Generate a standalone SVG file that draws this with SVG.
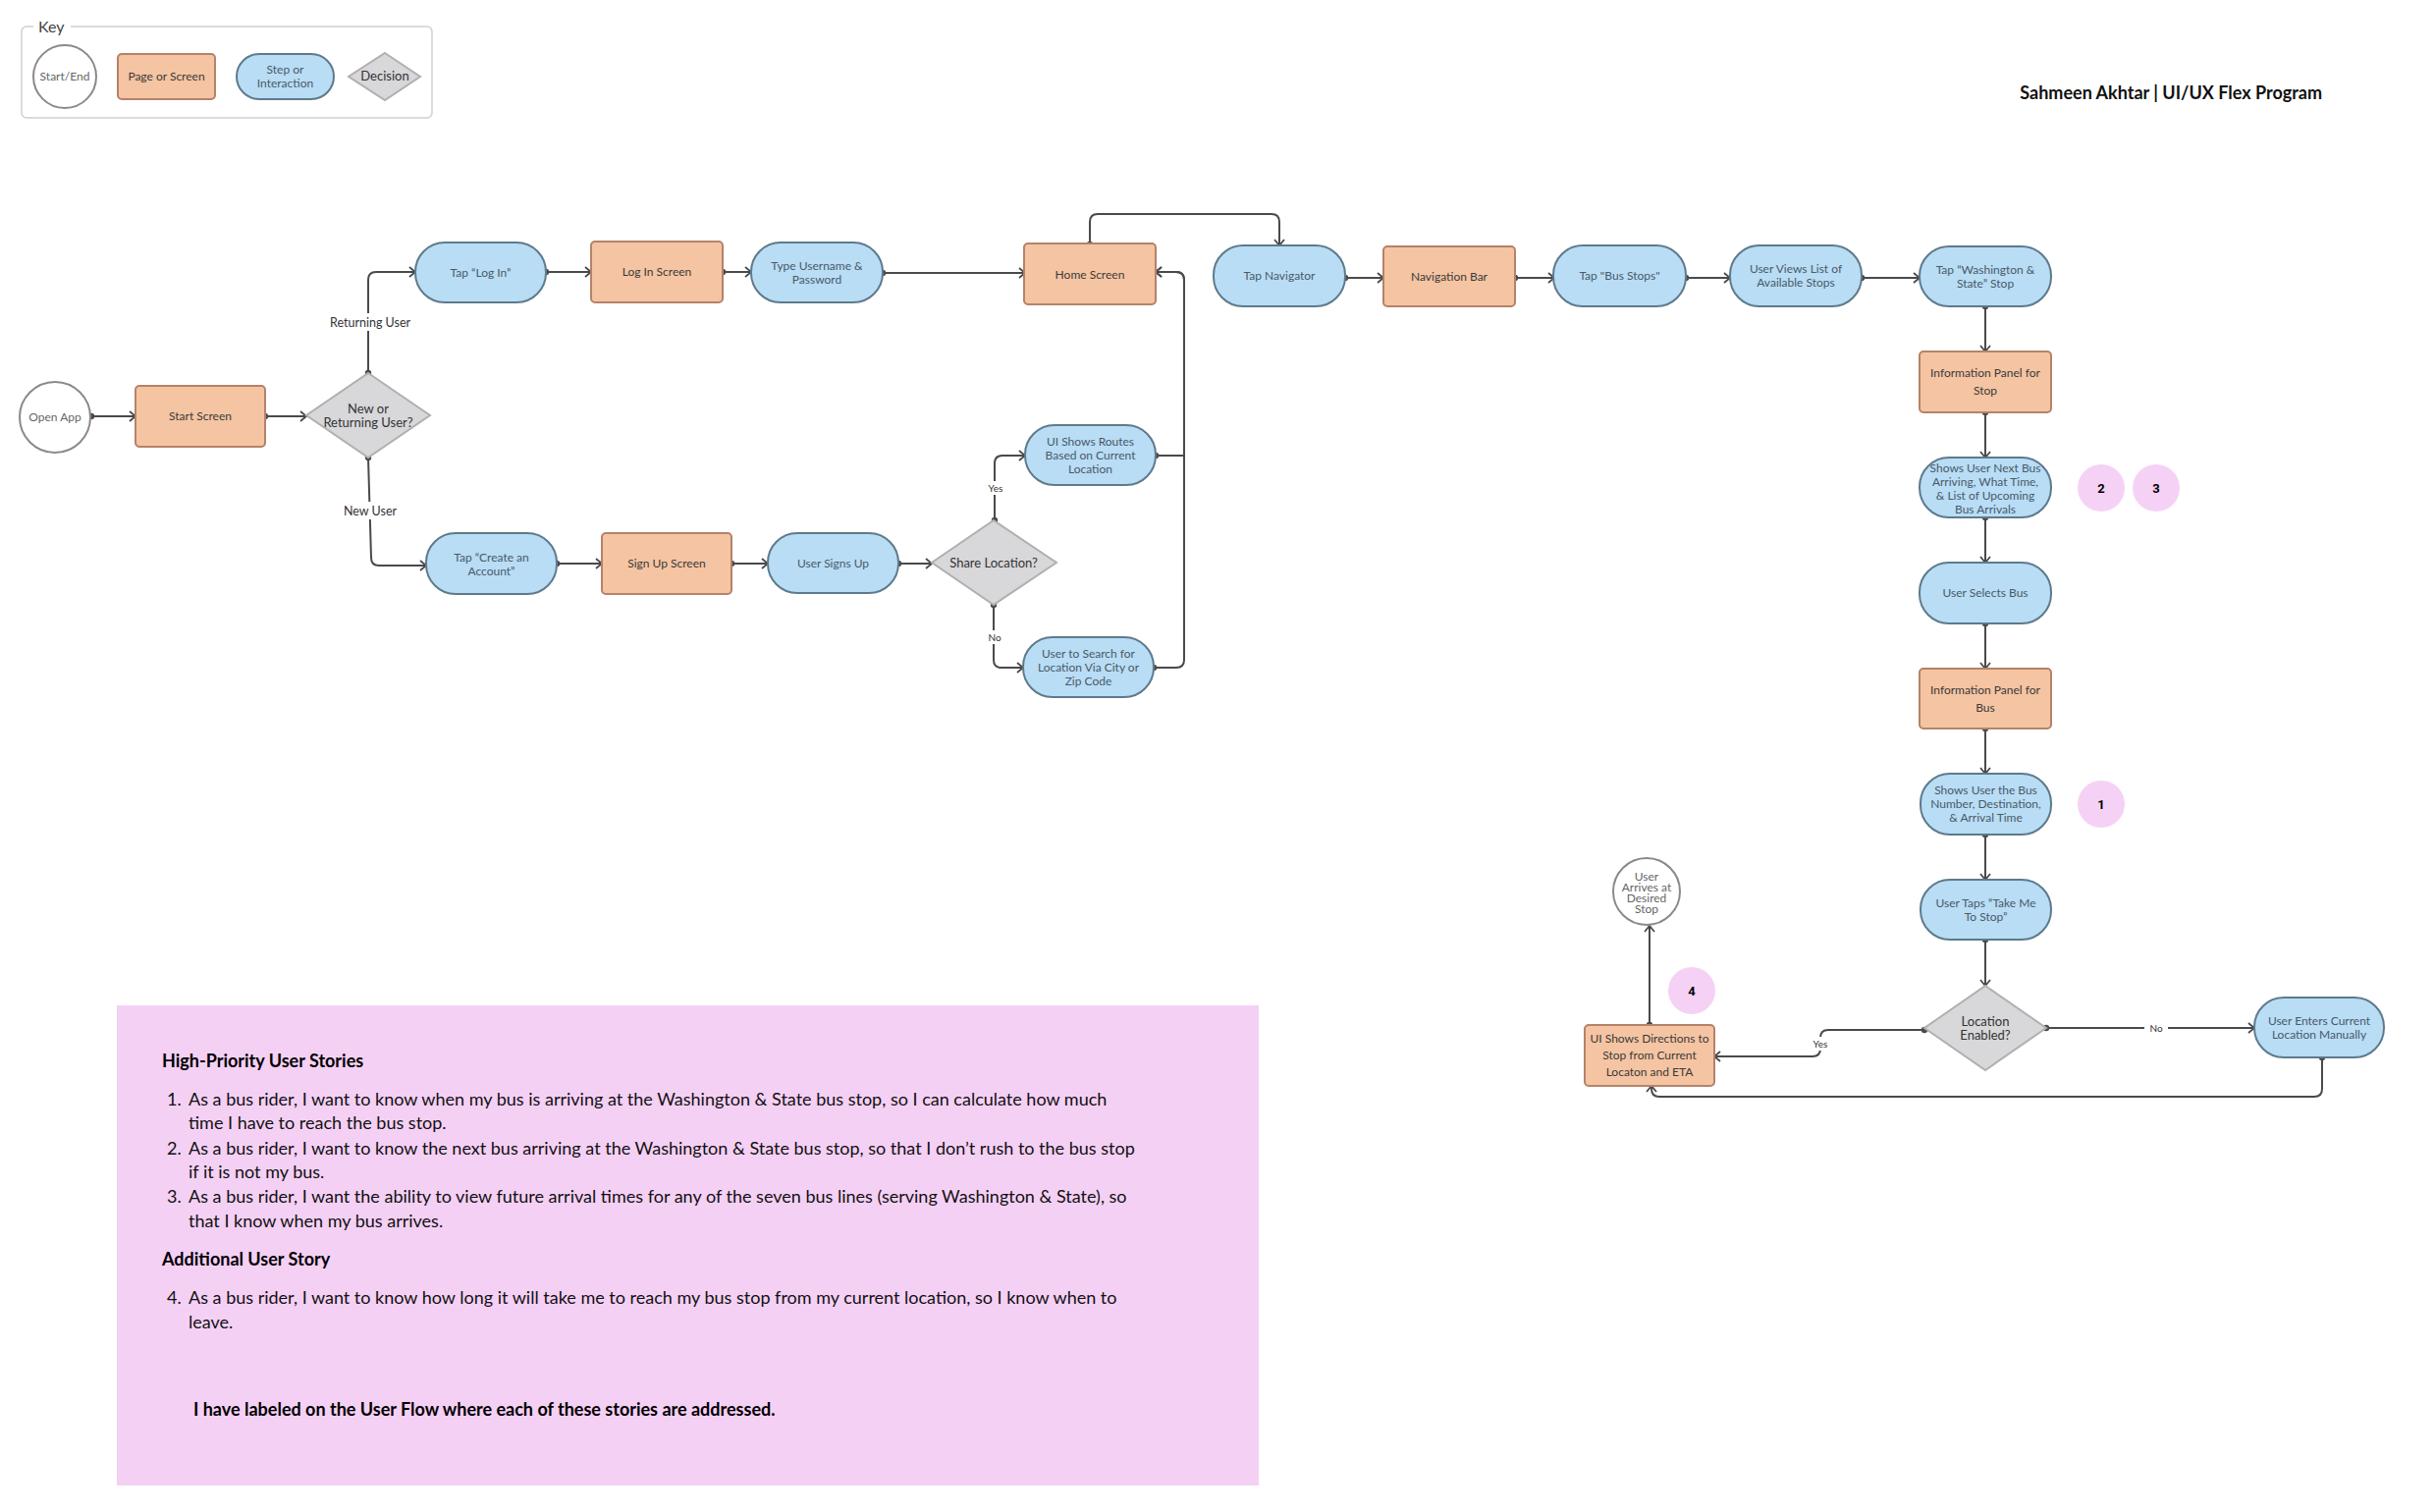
<svg xmlns="http://www.w3.org/2000/svg" width="2480" height="1540" viewBox="0 0 2480 1540">
<defs>
<marker id="arr" markerUnits="userSpaceOnUse" markerWidth="14" markerHeight="14" refX="9" refY="6" orient="auto">
<path d="M3,1 L9,6 L3,11" fill="none" stroke="#4a4a4a" stroke-width="1.8"/>
</marker>
<marker id="dot" markerUnits="userSpaceOnUse" markerWidth="8" markerHeight="8" refX="4" refY="4" orient="auto">
<circle cx="4" cy="4" r="3.2" fill="#4a4a4a"/>
</marker>
</defs>
<style>
text{font-family:Lato,"Liberation Sans",sans-serif}
.pg{fill:#f5c4a2;stroke:#b5826a;stroke-width:2}
.st{fill:#b8ddf5;stroke:#5e7a8c;stroke-width:2}
.dc{fill:#d8d7d9;stroke:#b0b0b0;stroke-width:2}
.se{fill:#fff;stroke:#8a8a8a;stroke-width:2}
.bd{fill:#f5d2f5}
.tp{font-size:12px;fill:#3a3a3a;text-anchor:middle}
.ts{font-size:12px;fill:#4a5968;text-anchor:middle}
.td{font-size:13px;fill:#333;text-anchor:middle}
.tc{font-size:12px;fill:#666;text-anchor:middle}
.tb{font-size:13px;font-weight:bold;fill:#000;text-anchor:middle;font-family:Roboto,"Liberation Sans",sans-serif}
.cn path{fill:none;stroke:#4a4a4a;stroke-width:2;marker-start:url(#dot);marker-end:url(#arr)}
.lb{font-size:12.5px;fill:#333;text-anchor:middle}
.ls{font-size:10px;fill:#333;text-anchor:middle}
.story{font-size:18px;fill:#111}
.sh{font-size:18px;font-weight:bold;fill:#000}
</style>
<rect width="2480" height="1540" fill="#fff"/>

<g id="key">
<rect x="22" y="27" width="418" height="93" rx="5" fill="#fff" stroke="#cfcfcf" stroke-width="1.5"/>
<rect x="34" y="18" width="38" height="18" fill="#fff"/>
<text x="39" y="33" font-size="16" fill="#444">Key</text>
<circle cx="66" cy="78" r="32" class="se"/>
<text x="66" y="82" class="tc" font-size="11">Start/End</text>
<rect x="120" y="55" width="99" height="46" rx="4" class="pg"/>
<text x="169.5" y="82" class="tp" font-size="11">Page or Screen</text>
<rect x="241" y="55" width="99" height="46" rx="23" class="st"/>
<text x="290.5" y="75" class="ts" font-size="11">Step or</text>
<text x="290.5" y="89" class="ts" font-size="11">Interaction</text>
<polygon points="392,54 428,78 392,102 355,78" class="dc"/>
<text x="392" y="82" class="td" font-size="11">Decision</text>
</g>

<text x="2365" y="101" text-anchor="end" font-size="18" font-weight="bold" fill="#111">Sahmeen Akhtar | UI/UX Flex Program</text>

<g class="cn" id="connectors">
<path d="M93,424 H138"/>
<path d="M270,424 H312"/>
<path d="M375,380 V285 Q375,277 383,277 H423"/>
<path d="M375,466 L378,568 Q378,576 386,576 H434"/>
<path d="M556,277 H602"/>
<path d="M736,277 H765"/>
<path d="M899,278 H1044"/>
<path d="M1110,249 V226 Q1110,218 1118,218 H1295 Q1303,218 1303,226 V250"/>
<path d="M567,574 H613"/>
<path d="M745,574 H782"/>
<path d="M915,574 H949"/>
<path d="M1013,530 V472 Q1013,464 1021,464 H1044"/>
<path d="M1012,616 V672 Q1012,680 1020,680 H1042"/>
<path d="M1177,464 H1206 V285 Q1206,277 1198,277 H1177"/>
<path d="M1175,680 H1198 Q1206,680 1206,672 V285 Q1206,277 1198,277 H1177"/>
<path d="M1370,283 H1409"/>
<path d="M1543,283 H1583"/>
<path d="M1717,283 H1762"/>
<path d="M1896,283 H1955"/>
<path d="M2022,312 V358"/>
<path d="M2022,420 V466"/>
<path d="M2022,527 V573"/>
<path d="M2022,635 V681"/>
<path d="M2022,742 V788"/>
<path d="M2022,850 V896"/>
<path d="M2022,957 V1004"/>
<path d="M2084,1047 H2296"/>
<path d="M1960,1049 H1862 Q1854,1049 1854,1057 V1068 Q1854,1076 1846,1076 H1746"/>
<path d="M2365,1077 V1109 Q2365,1117 2357,1117 H1690 Q1682,1117 1682,1109 V1106"/>
<path d="M1680,1044 V943"/>
</g>

<g id="labels">
<rect x="332" y="319" width="90" height="18" fill="#fff"/>
<text x="377" y="333" class="lb">Returning User</text>
<rect x="346" y="511" width="62" height="18" fill="#fff"/>
<text x="377" y="525" class="lb">New User</text>
<rect x="1002" y="490" width="24" height="14" fill="#fff"/>
<text x="1014" y="501" class="ls">Yes</text>
<rect x="1002" y="642" width="22" height="14" fill="#fff"/>
<text x="1013" y="653" class="ls">No</text>
<rect x="2184" y="1040" width="24" height="14" fill="#fff"/>
<text x="2196" y="1051" class="ls">No</text>
<rect x="1842" y="1056" width="24" height="14" fill="#fff"/>
<text x="1854" y="1067" class="ls">Yes</text>
</g>

<g id="open-app"><circle cx="56" cy="425" r="36" class="se"/><text x="56" y="429" class="tc">Open App</text></g>
<g id="start-screen"><rect x="138" y="393" width="132" height="62" rx="4" class="pg"/><text x="204" y="428" class="tp">Start Screen</text></g>
<g id="new-or-returning"><polygon points="375,380 438,423 375,466 312,423" class="dc"/><text x="375" y="421" class="td">New or</text><text x="375" y="435" class="td">Returning User?</text></g>
<g id="tap-log-in"><rect x="423" y="247" width="133" height="61" rx="30" class="st"/><text x="489.5" y="282" class="ts">Tap “Log In”</text></g>
<g id="log-in-screen"><rect x="602" y="246" width="134" height="62" rx="4" class="pg"/><text x="669" y="281" class="tp">Log In Screen</text></g>
<g id="type-username"><rect x="765" y="247" width="134" height="61" rx="30" class="st"/><text x="832" y="275" class="ts">Type Username &amp;</text><text x="832" y="289" class="ts">Password</text></g>
<g id="home-screen"><rect x="1043" y="248" width="134" height="62" rx="4" class="pg"/><text x="1110" y="284" class="tp">Home Screen</text></g>
<g id="tap-create"><rect x="434" y="543" width="133" height="62" rx="30" class="st"/><text x="500.5" y="572" class="ts">Tap “Create an</text><text x="500.5" y="586" class="ts">Account”</text></g>
<g id="sign-up-screen"><rect x="613" y="543" width="132" height="62" rx="4" class="pg"/><text x="679" y="578" class="tp">Sign Up Screen</text></g>
<g id="user-signs-up"><rect x="782" y="543" width="133" height="61" rx="30" class="st"/><text x="848.5" y="578" class="ts">User Signs Up</text></g>
<g id="share-location"><polygon points="1012,530 1076,573 1012,616 949,573" class="dc"/><text x="1012" y="578" class="td">Share Location?</text></g>
<g id="ui-shows-routes"><rect x="1044" y="433" width="133" height="61" rx="30" class="st"/><text x="1110.5" y="454" class="ts">UI Shows Routes</text><text x="1110.5" y="468" class="ts">Based on Current</text><text x="1110.5" y="482" class="ts">Location</text></g>
<g id="user-search"><rect x="1042" y="649" width="133" height="61" rx="30" class="st"/><text x="1108.5" y="670" class="ts">User to Search for</text><text x="1108.5" y="684" class="ts">Location Via City or</text><text x="1108.5" y="698" class="ts">Zip Code</text></g>
<g id="tap-navigator"><rect x="1236" y="250" width="134" height="62" rx="30" class="st"/><text x="1303" y="285" class="ts">Tap Navigator</text></g>
<g id="navigation-bar"><rect x="1409" y="251" width="134" height="61" rx="4" class="pg"/><text x="1476" y="286" class="tp">Navigation Bar</text></g>
<g id="tap-bus-stops"><rect x="1582" y="250" width="135" height="62" rx="30" class="st"/><text x="1649.5" y="285" class="ts">Tap "Bus Stops"</text></g>
<g id="user-views-list"><rect x="1762" y="250" width="134" height="62" rx="30" class="st"/><text x="1829" y="278" class="ts">User Views List of</text><text x="1829" y="292" class="ts">Available Stops</text></g>
<g id="tap-washington"><rect x="1955" y="251" width="134" height="61" rx="30" class="st"/><text x="2022" y="279" class="ts">Tap “Washington &amp;</text><text x="2022" y="293" class="ts">State” Stop</text></g>
<g id="info-panel-stop"><rect x="1955" y="358" width="134" height="62" rx="4" class="pg"/><text x="2022" y="384" class="tp">Information Panel for</text><text x="2022" y="402" class="tp">Stop</text></g>
<g id="shows-next-bus"><rect x="1955" y="466" width="134" height="61" rx="30" class="st"/><text x="2022" y="481" class="ts">Shows User Next Bus</text><text x="2022" y="495" class="ts">Arriving, What Time,</text><text x="2022" y="509" class="ts">&amp; List of Upcoming</text><text x="2022" y="523" class="ts">Bus Arrivals</text></g>
<g id="user-selects-bus"><rect x="1955" y="573" width="134" height="62" rx="30" class="st"/><text x="2022" y="608" class="ts">User Selects Bus</text></g>
<g id="info-panel-bus"><rect x="1955" y="681" width="134" height="61" rx="4" class="pg"/><text x="2022" y="707" class="tp">Information Panel for</text><text x="2022" y="725" class="tp">Bus</text></g>
<g id="shows-bus-number"><rect x="1956" y="788" width="133" height="62" rx="30" class="st"/><text x="2022.5" y="809" class="ts">Shows User the Bus</text><text x="2022.5" y="823" class="ts">Number, Destination,</text><text x="2022.5" y="837" class="ts">&amp; Arrival Time</text></g>
<g id="user-taps-take-me"><rect x="1956" y="896" width="133" height="61" rx="30" class="st"/><text x="2022.5" y="924" class="ts">User Taps “Take Me</text><text x="2022.5" y="938" class="ts">To Stop”</text></g>
<g id="location-enabled"><polygon points="2022,1004 2084,1047 2022,1090 1960,1047" class="dc"/><text x="2022" y="1045" class="td">Location</text><text x="2022" y="1059" class="td">Enabled?</text></g>
<g id="user-enters-location"><rect x="2296" y="1016" width="132" height="61" rx="30" class="st"/><text x="2362" y="1044" class="ts">User Enters Current</text><text x="2362" y="1058" class="ts">Location Manually</text></g>
<g id="ui-shows-directions"><rect x="1614" y="1044" width="132" height="62" rx="4" class="pg"/><text x="1680" y="1062" class="tp">UI Shows Directions to</text><text x="1680" y="1079" class="tp">Stop from Current</text><text x="1680" y="1096" class="tp">Locaton and ETA</text></g>
<g id="user-arrives"><circle cx="1677" cy="908" r="34" class="se"/><text x="1677" y="897" class="tc">User</text><text x="1677" y="908" class="tc">Arrives at</text><text x="1677" y="919" class="tc">Desired</text><text x="1677" y="930" class="tc">Stop</text></g>

<g id="badge-2"><circle cx="2140" cy="497" r="24" class="bd"/><text x="2140" y="502" class="tb">2</text></g>
<g id="badge-3"><circle cx="2196" cy="497" r="24" class="bd"/><text x="2196" y="502" class="tb">3</text></g>
<g id="badge-1"><circle cx="2140" cy="819" r="24" class="bd"/><text x="2140" y="824" class="tb">1</text></g>
<g id="badge-4"><circle cx="1723" cy="1009" r="24" class="bd"/><text x="1723" y="1014" class="tb">4</text></g>

<g id="user-stories">
<rect x="119" y="1024" width="1163" height="489" fill="#f5d0f5"/>
<text x="165" y="1087" class="sh">High-Priority User Stories</text>
<text x="170" y="1126" class="story">1.</text><text x="192" y="1126" class="story">As a bus rider, I want to know when my bus is arriving at the Washington &amp; State bus stop, so I can calculate how much</text>
<text x="192" y="1150" class="story">time I have to reach the bus stop.</text>
<text x="170" y="1176" class="story">2.</text><text x="192" y="1176" class="story">As a bus rider, I want to know the next bus arriving at the Washington &amp; State bus stop, so that I don’t rush to the bus stop</text>
<text x="192" y="1200" class="story">if it is not my bus.</text>
<text x="170" y="1225" class="story">3.</text><text x="192" y="1225" class="story">As a bus rider, I want the ability to view future arrival times for any of the seven bus lines (serving Washington &amp; State), so</text>
<text x="192" y="1250" class="story">that I know when my bus arrives.</text>
<text x="165" y="1289" class="sh">Additional User Story</text>
<text x="170" y="1328" class="story">4.</text><text x="192" y="1328" class="story">As a bus rider, I want to know how long it will take me to reach my bus stop from my current location, so I know when to</text>
<text x="192" y="1353" class="story">leave.</text>
<text x="197" y="1442" class="sh">I have labeled on the User Flow where each of these stories are addressed.</text>
</g>
</svg>
